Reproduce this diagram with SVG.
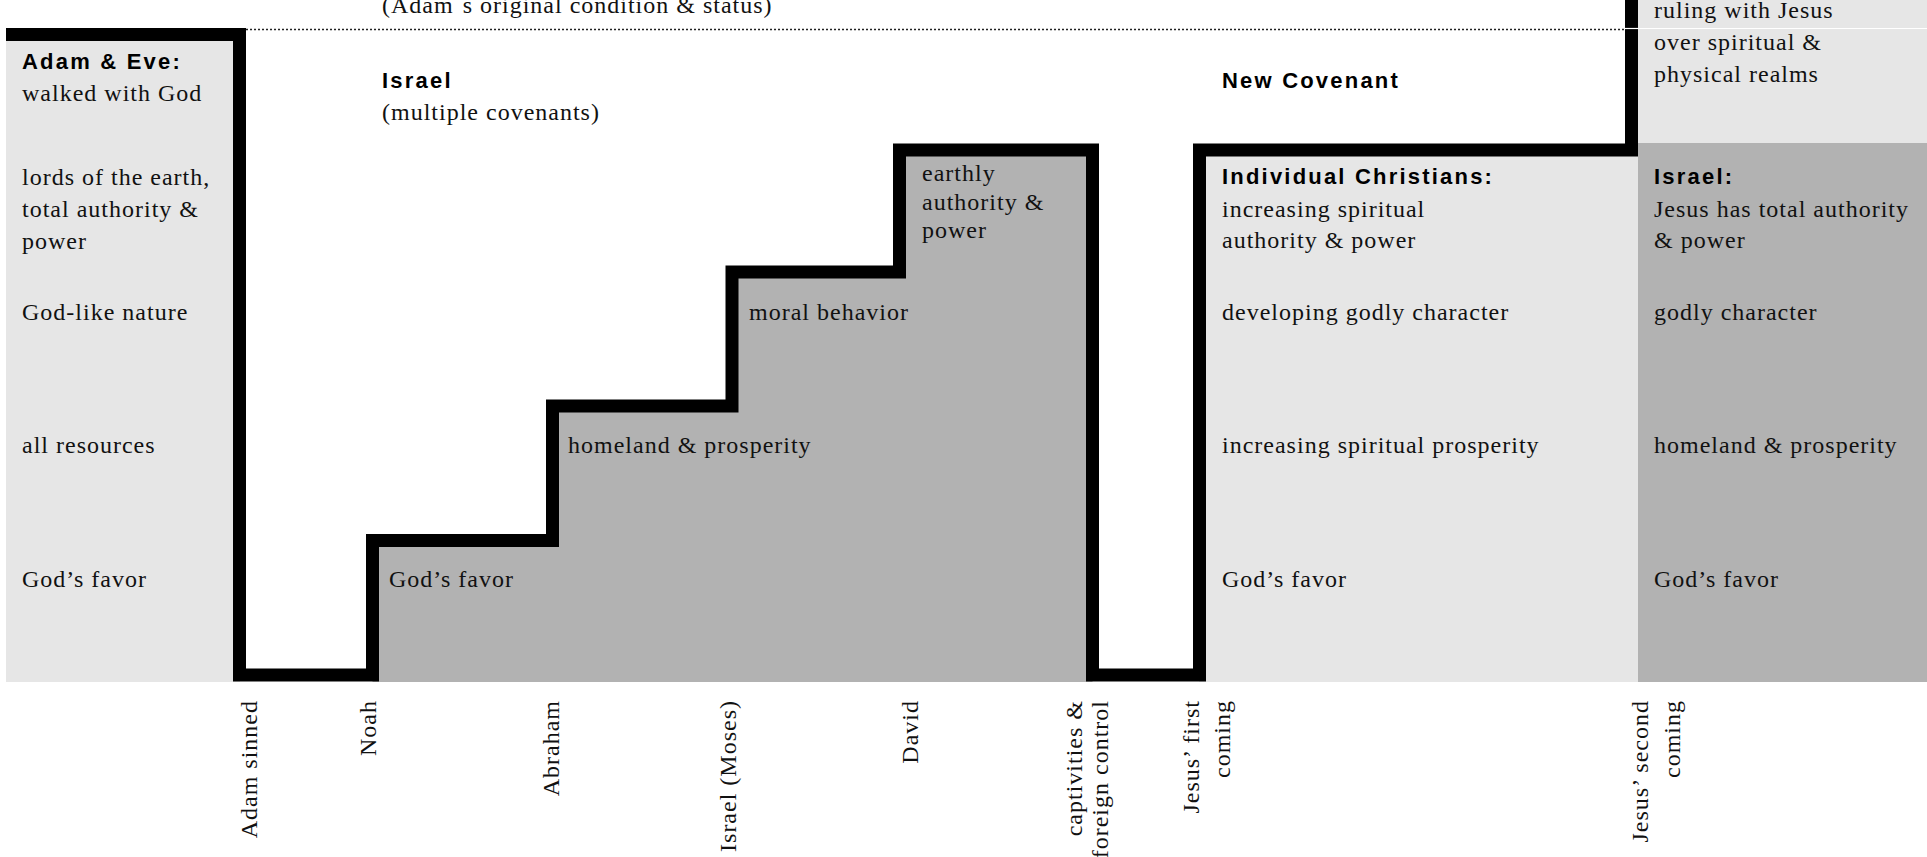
<svg xmlns="http://www.w3.org/2000/svg" width="1927" height="857" viewBox="0 0 1927 857">
<style>
.s{font-family:"Liberation Serif","Times New Roman",serif;font-size:24px;letter-spacing:1px;fill:#111}
.b{font-family:"Liberation Sans",Arial,sans-serif;font-size:22px;font-weight:bold;letter-spacing:2.2px;fill:#000}
.lt{fill:#e6e6e6}
.dk{fill:#b2b2b2}
.v{font-family:"Liberation Serif","Times New Roman",serif;font-size:24px;letter-spacing:1px;fill:#111;text-anchor:end}
</style>
<rect width="1927" height="857" fill="#fff"/>
<g id="adam-eve">
<rect class="lt" x="6" y="34" width="234" height="648"/>
<text class="b" x="22" y="69">Adam &amp; Eve:</text>
<text class="s" x="22" y="101">walked with God</text>
<text class="s" x="22" y="185">lords of the earth,</text>
<text class="s" x="22" y="217">total authority &amp;</text>
<text class="s" x="22" y="249">power</text>
<text class="s" x="22" y="320">God-like nature</text>
<text class="s" x="22" y="453">all resources</text>
<text class="s" x="22" y="587">God’s favor</text>
</g>
<g id="israel">
<path class="dk" d="M372.5,682 V540.5 H552.5 V406 H732 V272 H899.5 V150 H1092.5 V682 Z"/>
<text class="s" x="382" y="13">(Adam´s original condition &amp; status)</text>
<text class="b" x="382" y="88">Israel</text>
<text class="s" x="382" y="120">(multiple covenants)</text>
<text class="s" x="389" y="587">God’s favor</text>
<text class="s" x="568" y="453">homeland &amp; prosperity</text>
<text class="s" x="749" y="320">moral behavior</text>
<text class="s" x="922" y="181">earthly</text>
<text class="s" x="922" y="210">authority &amp;</text>
<text class="s" x="922" y="238">power</text>
</g>
<g id="new-covenant">
<rect class="lt" x="1199" y="150" width="439" height="532"/>
<text class="b" x="1222" y="88">New Covenant</text>
<text class="b" x="1222" y="184">Individual Christians:</text>
<text class="s" x="1222" y="217">increasing spiritual</text>
<text class="s" x="1222" y="248">authority &amp; power</text>
<text class="s" x="1222" y="320">developing godly character</text>
<text class="s" x="1222" y="453">increasing spiritual prosperity</text>
<text class="s" x="1222" y="587">God’s favor</text>
</g>
<g id="second-coming">
<rect class="lt" x="1631" y="0" width="296" height="143"/>
<rect class="dk" x="1638" y="143" width="289" height="539"/>
<line x1="1625" y1="28.5" x2="1927" y2="28.5" stroke="#fff" stroke-width="1.2"/>
<text class="s" x="1654" y="18">ruling with Jesus</text>
<text class="s" x="1654" y="50">over spiritual &amp;</text>
<text class="s" x="1654" y="82">physical realms</text>
<text class="b" x="1654" y="184">Israel:</text>
<text class="s" x="1654" y="217">Jesus has total authority</text>
<text class="s" x="1654" y="248">&amp; power</text>
<text class="s" x="1654" y="320">godly character</text>
<text class="s" x="1654" y="453">homeland &amp; prosperity</text>
<text class="s" x="1654" y="587">God’s favor</text>
</g>
<g id="connectors">
<path d="M6,34.5 H239.5 V675 H372.5 V540.5 H552.5 V406 H732 V272 H899.5 V150 H1092.5 V675 H1199.5 V150 H1631.5 V0" fill="none" stroke="#000" stroke-width="13" stroke-linejoin="miter"/>
<line x1="246" y1="29.5" x2="1625" y2="29.5" stroke="#222" stroke-width="1.5" stroke-dasharray="2 2"/>
<line x1="1625" y1="28.5" x2="1638" y2="28.5" stroke="#fff" stroke-width="1.2"/>
</g>
<g id="timeline">
<text class="v" transform="translate(257,700) rotate(-90)">Adam sinned</text>
<text class="v" transform="translate(376,700) rotate(-90)">Noah</text>
<text class="v" transform="translate(559,700) rotate(-90)">Abraham</text>
<text class="v" transform="translate(736,700) rotate(-90)">Israel (Moses)</text>
<text class="v" transform="translate(918,700) rotate(-90)">David</text>
<text class="v" transform="translate(1082,700) rotate(-90)">captivities &amp;</text>
<text class="v" transform="translate(1108,700) rotate(-90)">foreign control</text>
<text class="v" transform="translate(1199,700) rotate(-90)">Jesus’ first</text>
<text class="v" transform="translate(1230,700) rotate(-90)">coming</text>
<text class="v" transform="translate(1648,700) rotate(-90)">Jesus’ second</text>
<text class="v" transform="translate(1680,700) rotate(-90)">coming</text>
</g>
</svg>
